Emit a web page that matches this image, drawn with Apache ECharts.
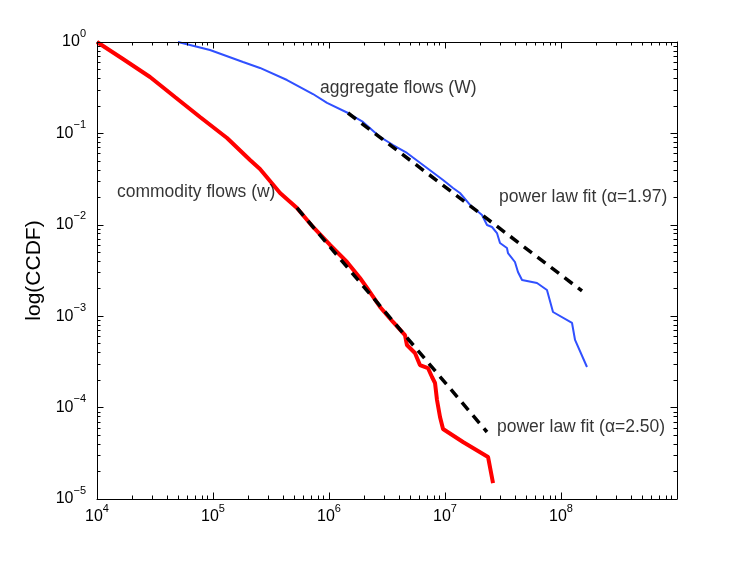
<!DOCTYPE html>
<html>
<head>
<meta charset="utf-8">
<script src="https://cdn.jsdelivr.net/npm/echarts@6/dist/echarts.min.js"></script>
<style>
  html, body { margin: 0; padding: 0; background: #fff; }
  #chart { width: 747px; height: 562px; }
</style>
</head>
<body>
<div id="chart"></div>
<script>
// values, stored as log10 of the value
var commodityLogX = [4.000, 4.224, 4.457, 4.672, 4.888, 5.121, 5.319, 5.405, 5.578, 5.724, 5.862, 6.009, 6.155,
  6.267, 6.328, 6.440, 6.552, 6.655, 6.672, 6.741, 6.784, 6.853, 6.888, 6.914, 6.931, 6.957, 6.983, 7.155, 7.371, 7.414];
var commodityLogY = [0, -0.186, -0.383, -0.602, -0.821, -1.050, -1.291, -1.389, -1.652, -1.816, -2.024, -2.221, -2.407,
  -2.582, -2.691, -2.899, -3.063, -3.206, -3.315, -3.403, -3.534, -3.567, -3.665, -3.731, -3.917, -4.103, -4.234, -4.376, -4.540, -4.825];

var aggregateLogX = [4.698, 4.974, 5.259, 5.405, 5.638, 5.862, 5.983, 6.164, 6.293, 6.440, 6.552, 6.672, 6.845, 6.983,
  7.069, 7.129, 7.216, 7.319, 7.362, 7.405, 7.448, 7.474, 7.534, 7.543, 7.603, 7.629, 7.664, 7.793, 7.879, 7.931, 8.095, 8.121, 8.224];
var aggregateLogY = [0, -0.088, -0.219, -0.284, -0.416, -0.569, -0.667, -0.777, -0.875, -1.039, -1.127, -1.214, -1.379, -1.510,
  -1.597, -1.652, -1.783, -1.893, -2.002, -2.024, -2.090, -2.199, -2.254, -2.309, -2.407, -2.516, -2.604, -2.637, -2.713, -2.954, -3.074, -3.260, -3.556];

// power law fits, end points
var fitAggLogX = [6.164, 8.181];
var fitAggLogY = [-0.777, -2.724];
var fitComLogX = [5.724, 7.362];
var fitComLogY = [-1.816, -4.267];

// annotations: [log x, log y, text]
var notes = [
  [5.922, -0.503, 'aggregate flows (W)'],
  [4.172, -1.641, 'commodity flows (w)'],
  [7.466, -1.696, 'power law fit (\u03b1=1.97)'],
  [7.448, -4.212, 'power law fit (\u03b1=2.50)']
];

var xDecades = [4, 5, 6, 7, 8];
var yDecades = [-5, -4, -3, -2, -1];
var minorSteps = [2, 3, 4, 5, 6, 7, 8, 9];
var lastXLabel = 8; // no label at 10^9 in the original

function toPoints(lx, ly) {
  return lx.map(function (v, i) { return [Math.pow(10, v), Math.pow(10, ly[i])]; });
}
function minorTicks(decades) {
  var out = [];
  decades.forEach(function (d) {
    minorSteps.forEach(function (m) { out.push(m * Math.pow(10, d)); });
  });
  return out;
}
function powLabel(value) {
  var e = Math.round(Math.log(value) / Math.LN10);
  if (e > lastXLabel) return '';
  return '{b|10}{s|' + (e < 0 ? '\u2212' + (-e) : e) + '}';
}

var labelRich = {
  b: { fontSize: 16, lineHeight: 22, verticalAlign: 'bottom', color: '#000', fontFamily: 'Liberation Sans' },
  s: { fontSize: 11, lineHeight: 22, verticalAlign: 'top', color: '#000', fontFamily: 'Liberation Sans' }
};

function makeAxis(kind, position, minor, showLabel) {
  var isX = kind === 'x';
  var ax = {
    type: 'log',
    logBase: 10,
    min: isX ? 1e4 : 1e-5,
    max: isX ? 1e9 : 1,
    position: position,
    axisLine: { show: !minor, lineStyle: { color: '#000', width: 1 } },
    axisTick: { show: true, inside: true, length: minor ? 3.5 : 6.5, lineStyle: { color: '#000', width: 1 } },
    axisLabel: {
      show: showLabel,
      formatter: powLabel,
      rich: labelRich,
      margin: isX ? 4 : 11
    },
    splitLine: { show: false },
    minorTick: { show: false },
    z: 5
  };
  if (minor) {
    ax.axisTick.customValues = minorTicks(isX ? xDecades : yDecades);
    ax.axisLabel.show = false;
  }
  if (!isX) ax.axisLabel.padding = [0, 0, 6, 0];
  return ax;
}

var yMain = makeAxis('y', 'left', false, true);
yMain.name = 'log(CCDF)';
yMain.nameLocation = 'middle';
yMain.nameGap = 48;
yMain.nameTextStyle = { fontSize: 21, color: '#000', fontFamily: 'Liberation Sans' };

var chart = echarts.init(document.getElementById('chart'), null, { renderer: 'canvas' });
chart.setOption({
  animation: false,
  backgroundColor: '#fff',
  grid: { left: 97, right: 70, top: 42, bottom: 63 },
  xAxis: [
    makeAxis('x', 'bottom', false, true),
    makeAxis('x', 'bottom', true, false),
    makeAxis('x', 'top', false, false),
    makeAxis('x', 'top', true, false)
  ],
  yAxis: [
    yMain,
    makeAxis('y', 'left', true, false),
    makeAxis('y', 'right', false, false),
    makeAxis('y', 'right', true, false)
  ],
  series: [
    {
      name: 'aggregate flows (W)', type: 'line', showSymbol: false,
      data: toPoints(aggregateLogX, aggregateLogY),
      lineStyle: { color: '#3050ff', width: 2 }, z: 2
    },
    {
      name: 'commodity flows (w)', type: 'line', showSymbol: false,
      data: toPoints(commodityLogX, commodityLogY),
      lineStyle: { color: '#ff0000', width: 4 }, z: 2
    },
    {
      name: 'fit aggregate', type: 'line', showSymbol: false,
      data: toPoints(fitAggLogX, fitAggLogY),
      lineStyle: { color: '#000', width: 3.5, type: [10, 7] }, z: 3
    },
    {
      name: 'fit commodity', type: 'line', showSymbol: false,
      data: toPoints(fitComLogX, fitComLogY),
      lineStyle: { color: '#000', width: 3.5, type: [10, 7] }, z: 3
    },
    {
      name: 'notes', type: 'scatter', symbolSize: 0, silent: true,
      data: notes.map(function (n) {
        return { value: [Math.pow(10, n[0]), Math.pow(10, n[1])], name: n[2] };
      }),
      label: {
        show: true, position: 'right', distance: 0, formatter: '{b}',
        fontSize: 17.5, color: '#000', fontFamily: 'Liberation Sans'
      },
      z: 4
    }
  ]
});
</script>
</body>
</html>
